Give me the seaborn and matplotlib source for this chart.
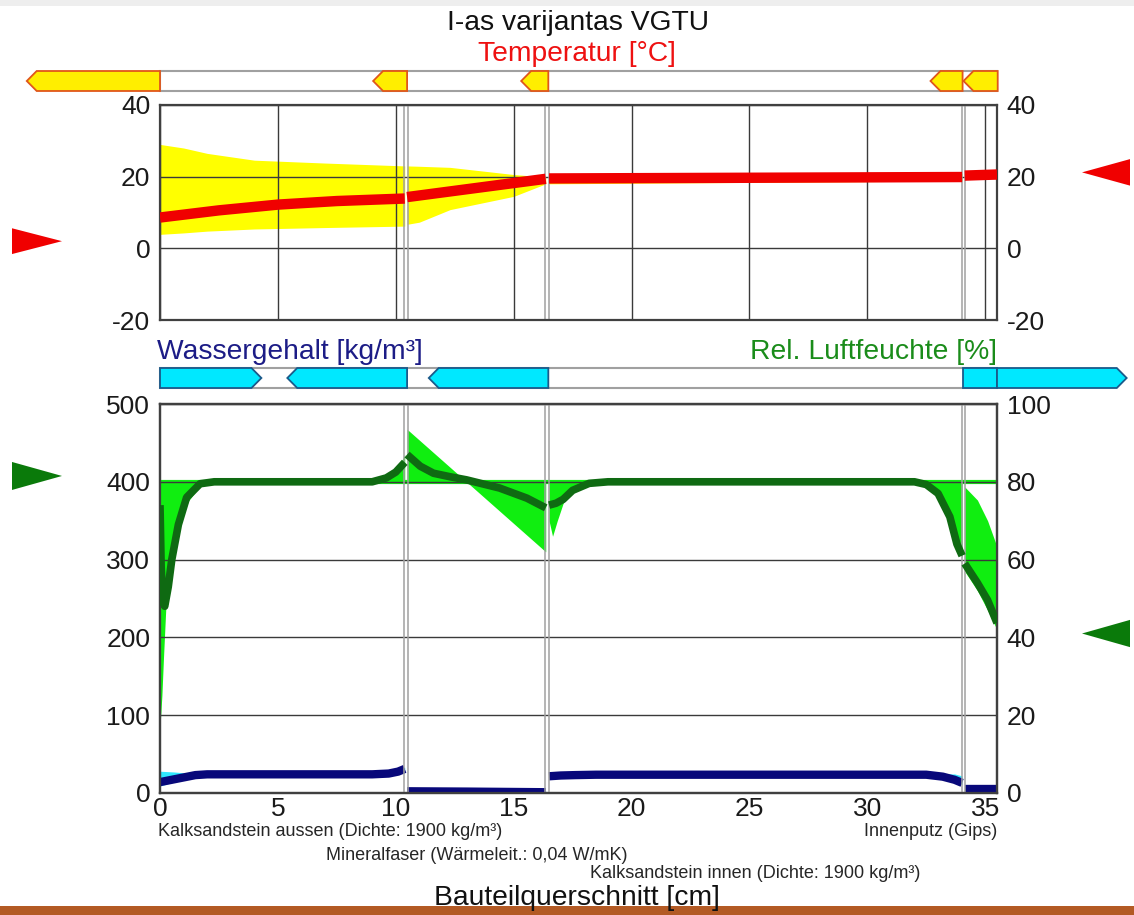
import matplotlib
matplotlib.use("Agg")
import matplotlib.pyplot as plt
import matplotlib.transforms as mtransforms
from matplotlib.patches import Polygon, Rectangle
import seaborn as sns

# ---------------- data ----------------
title = "I-as varijantas VGTU"
temp_label = "Temperatur [°C]"
water_label = "Wassergehalt [kg/m³]"
rh_label = "Rel. Luftfeuchte [%]"
x_label = "Bauteilquerschnitt [cm]"

x_ticks = [0, 5, 10, 15, 20, 25, 30, 35]
temp_ticks = [-20, 0, 20, 40]
water_ticks = [0, 100, 200, 300, 400, 500]
rh_ticks = [0, 20, 40, 60, 80, 100]
x_max = 35.5

layer_names = ["Kalksandstein aussen (Dichte: 1900 kg/m³)",
               "Mineralfaser (Wärmeleit.: 0,04 W/mK)",
               "Kalksandstein innen (Dichte: 1900 kg/m³)",
               "Innenputz (Gips)"]
layer_left = [0.0, 10.48, 16.50, 34.13]
layer_right = [10.38, 16.36, 34.02, 35.5]
boundary_lines = [10.35, 10.50, 16.34, 16.50, 34.00, 34.14]

# boundary conditions (side triangles)
temp_outside = 2.0
temp_inside = 21.2
rh_outside = 81.5
rh_inside = 41.0

# temperature: current profile per layer
t_x = [[0, 2.5, 5, 7.5, 10.38], [10.48, 16.36], [16.5, 34.02], [34.13, 35.5]]
t_val = [[8.6, 10.6, 12.2, 13.2, 13.9], [14.3, 19.4], [19.5, 19.9], [20.3, 20.6]]
# temperature: envelope (min / max)
t_env_x = [[0, 1, 2, 4, 7, 10.38], [10.48, 11.0, 12.3, 15.0, 16.36], [16.5, 34.02], [34.13, 35.5]]
t_env_hi = [[29.0, 28.0, 26.5, 24.6, 23.8, 23.0], [23.0, 22.9, 22.6, 20.6, 19.9], [20.8, 20.9], [21.2, 21.3]]
t_env_lo = [[3.9, 4.3, 4.8, 5.4, 5.8, 6.2], [6.7, 7.3, 10.8, 14.5, 18.0], [18.0, 18.8], [19.6, 19.8]]

# relative humidity: current profile per layer
rh_x = [[0, 0.05, 0.12, 0.2, 0.35, 0.5, 0.78, 1.13, 1.7, 2.3, 9.0, 9.6, 10.0, 10.38],
        [10.48, 11.04, 11.6, 12.3, 13.0, 14.4, 15.56, 16.36],
        [16.5, 16.8, 17.1, 17.5, 18.2, 19.0, 32.0, 32.5, 33.0, 33.5, 33.8, 34.02],
        [34.13, 34.67, 35.1, 35.5]]
rh_val = [[74, 58, 49, 48, 53, 60, 69, 76, 79.5, 80, 80, 81, 82.5, 85],
          [87, 84, 82.2, 81.3, 80.5, 78.4, 75.8, 73.3],
          [74, 74.5, 75.5, 77.8, 79.6, 80, 80, 79.3, 77, 71, 64, 61],
          [59, 54, 49.6, 43.7]]
# relative humidity: envelope
rh_env_x = [[0, 0.08, 0.15, 0.25, 0.4, 0.6, 0.9, 1.2, 1.7, 2.3, 9.3, 9.8, 10.1, 10.38],
            [10.48, 13.0, 16.36],
            [16.5, 16.65, 16.85, 17.1, 17.5, 18.2, 19.0, 32.0, 32.5, 33.0, 33.5, 33.8, 34.02],
            [34.13, 34.67, 35.1, 35.5]]
rh_env_hi = [[80, 80, 80, 80, 80, 80, 80, 80, 80, 80, 80, 81.5, 83.5, 87],
             [93.5, 80, 80],
             [80, 80, 80, 80, 80, 80, 80, 80, 80, 80, 80, 80, 80],
             [78.7, 75.3, 70.0, 63.3]]
rh_env_lo = [[17, 25, 35, 48, 55, 62, 70, 75, 79, 80, 80, 80, 80, 80],
             [80, 80, 62],
             [70, 66, 70, 74.5, 77.5, 79.6, 80, 80, 79.0, 76.5, 70.5, 63.5, 60.5],
             [57, 52, 47, 42]]
rh_initial = 80.0

# water content: current profile per layer
w_x = [[0, 0.5, 1.0, 1.5, 2.0, 9.0, 9.7, 10.1, 10.38],
       [10.48, 13.0, 16.36],
       [16.5, 17.0, 17.6, 18.5, 32.5, 33.2, 33.7, 34.02],
       [34.13, 35.5]]
w_val = [[14, 17, 20, 23, 24, 24, 25, 27.5, 31],
         [2.2, 1.8, 1.0],
         [21.5, 22.5, 23, 23.5, 23.5, 21, 17, 13],
         [5, 5]]
w_env_x = [[0, 0.6, 1.2, 2.0, 9.0, 10.38],
           [10.48, 13.0, 16.36],
           [16.5, 17.0, 17.6, 18.5, 32.5, 33.2, 33.7, 34.02],
           [34.13, 35.5]]
w_env_hi = [[28, 27, 25.5, 25, 25, 33],
            [3.5, 3.0, 2.5],
            [25, 25, 24.5, 24.5, 24.5, 24.5, 24.5, 22],
            [9, 8]]
w_env_lo = [[9, 14, 19, 23, 23, 26],
            [0.8, 0.5, 0.3],
            [20, 21, 22, 22.5, 22.5, 19, 15, 11],
            [2, 2]]

# flux arrows (start, end, direction: -1 left, +1 right, 0 none)
heat_start = [-5.65, 9.04, 15.32, 32.68, 34.08]
heat_end = [0.0, 10.48, 16.47, 34.04, 35.53]
heat_dir = [-1, -1, -1, -1, -1]
moist_start = [0.0, 5.4, 11.4, 34.04, 35.5]
moist_end = [4.3, 10.48, 16.47, 35.5, 41.0]
moist_dir = [1, -1, -1, 0, 1]

# ---------------- style ----------------
sns.set_theme(style="white")
plt.rcParams["font.family"] = ["Liberation Sans", "DejaVu Sans"]
plt.rcParams["axes.unicode_minus"] = False

W, H = 1134, 915
fig = plt.figure(figsize=(W / 100, H / 100), dpi=100)
fig.patch.set_facecolor("white")


def fx(px):
    return px / W


def fy(py):
    return 1 - py / H


AX_L, AX_R = 160, 997
ax_t = fig.add_axes([fx(AX_L), fy(320), fx(AX_R - AX_L), (320 - 105) / H])
ax_b = fig.add_axes([fx(AX_L), fy(793), fx(AX_R - AX_L), (793 - 404) / H])
ax_r = ax_b.twinx()

RED = "#f00000"
YELLOW = "#ffff00"
LIME = "#10ee10"
DKGREEN = "#0f6a12"
NAVY = "#08087a"
CYAN = "#30e8ff"
GRID = "#3a3a3a"
BOUND = "#a0a0a0"
TICK_FS = 19
HEAD_FS = 20.3
LAB_FS = 13

# ---- temperature panel ----
for xs, lo, hi in zip(t_env_x, t_env_lo, t_env_hi):
    ax_t.fill_between(xs, lo, hi, color=YELLOW, lw=0, zorder=1)
for xs, ys in zip(t_x, t_val):
    sns.lineplot(x=xs, y=ys, ax=ax_t, color=RED, lw=7.5, zorder=3,
                 solid_capstyle="butt")

# ---- moisture panel ----
for xs, lo, hi in zip(w_env_x, w_env_lo, w_env_hi):
    ax_b.fill_between(xs, lo, hi, color=CYAN, lw=0, zorder=1)
for xs, ys in zip(w_x, w_val):
    sns.lineplot(x=xs, y=ys, ax=ax_b, color=NAVY, lw=6, zorder=3,
                 solid_capstyle="butt")

ax_r.axhline(rh_initial, color=LIME, lw=3, zorder=1.2)
for xs, lo, hi in zip(rh_env_x, rh_env_lo, rh_env_hi):
    ax_r.fill_between(xs, lo, hi, color=LIME, lw=0, zorder=1)
for xs, ys in zip(rh_x, rh_val):
    sns.lineplot(x=xs, y=ys, ax=ax_r, color=DKGREEN, lw=5.5, zorder=3,
                 solid_capstyle="butt")

# ---- axes formatting ----
for ax in (ax_t, ax_b, ax_r):
    ax.set_xlim(0, x_max)
    ax.set_xticks(x_ticks)
    ax.set_xlabel("")
    ax.set_ylabel("")
    for sp in ax.spines.values():
        sp.set_color("#404040")
        sp.set_linewidth(1.6)
    ax.tick_params(length=0, labelsize=TICK_FS, colors="#1a1a1a")

ax_t.set_ylim(-20, 40)
ax_t.set_yticks(temp_ticks)
ax_t.tick_params(labelbottom=False, labelright=True, pad=7)
ax_t.set_axisbelow("line")
ax_t.grid(True, color=GRID, lw=1)

ax_b.set_ylim(0, 500)
ax_b.set_yticks(water_ticks)
ax_b.tick_params(axis="y", pad=7)
ax_b.tick_params(axis="x", pad=3)
ax_b.grid(False)

ax_r.set_ylim(0, 100)
ax_r.set_yticks(rh_ticks)
ax_r.tick_params(axis="y", pad=7)
ax_r.set_axisbelow("line")
ax_r.grid(True, color=GRID, lw=1)

for ax in (ax_t, ax_r):
    for xb in boundary_lines:
        ax.axvline(xb, color=BOUND, lw=1.1, zorder=1.6)

# ---- flux arrow bars ----
def arrow_pts(x0, x1, d, y0, y1, tip):
    ym = (y0 + y1) / 2
    if d < 0:
        return [(x0, ym), (x0 + tip, y1), (x1, y1), (x1, y0), (x0 + tip, y0)]
    if d > 0:
        return [(x0, y0), (x0, y1), (x1 - tip, y1), (x1, ym), (x1 - tip, y0)]
    return [(x0, y0), (x0, y1), (x1, y1), (x1, y0)]


tr_heat = mtransforms.blended_transform_factory(ax_t.transData, fig.transFigure)
y0h, y1h = fy(91), fy(71)
fig.add_artist(Rectangle((0, y0h), x_max, y1h - y0h, transform=tr_heat,
                         facecolor="white", edgecolor="#a0a0a0", lw=1.5))
for s, e, d in zip(heat_start, heat_end, heat_dir):
    fig.add_artist(Polygon(arrow_pts(s, e, d, y0h, y1h, 0.42), closed=True,
                           transform=tr_heat, facecolor="#ffee00",
                           edgecolor="#e0561a", lw=1.3))

tr_moist = mtransforms.blended_transform_factory(ax_b.transData, fig.transFigure)
y0m, y1m = fy(388), fy(368)
fig.add_artist(Rectangle((0, y0m), x_max, y1m - y0m, transform=tr_moist,
                         facecolor="white", edgecolor="#a0a0a0", lw=1.5))
for s, e, d in zip(moist_start, moist_end, moist_dir):
    fig.add_artist(Polygon(arrow_pts(s, e, d, y0m, y1m, 0.42), closed=True,
                           transform=tr_moist, facecolor="#00e8ff",
                           edgecolor="#1a5a8a", lw=1.3))

# ---- boundary condition triangles ----
tr_tl = mtransforms.blended_transform_factory(fig.transFigure, ax_t.transData)
fig.add_artist(Polygon([(fx(12), temp_outside + 3.6), (fx(12), temp_outside - 3.6),
                        (fx(62), temp_outside)], transform=tr_tl, color=RED, lw=0))
fig.add_artist(Polygon([(fx(1130), temp_inside + 3.7), (fx(1130), temp_inside - 3.7),
                        (fx(1082), temp_inside)], transform=tr_tl, color=RED, lw=0))
tr_rh = mtransforms.blended_transform_factory(fig.transFigure, ax_r.transData)
fig.add_artist(Polygon([(fx(12), rh_outside + 3.6), (fx(12), rh_outside - 3.6),
                        (fx(62), rh_outside)], transform=tr_rh, color="#0a7a0a", lw=0))
fig.add_artist(Polygon([(fx(1130), rh_inside + 3.5), (fx(1130), rh_inside - 3.5),
                        (fx(1082), rh_inside)], transform=tr_rh, color="#0a7a0a", lw=0))

# ---- texts ----
fig.text(fx(578), fy(22.5), title, ha="center", va="center", fontsize=HEAD_FS, color="#111111")
fig.text(fx(577), fy(54), temp_label, ha="center", va="center", fontsize=HEAD_FS, color="#ee1111")
fig.text(fx(157), fy(352), water_label, ha="left", va="center", fontsize=HEAD_FS, color="#1c1c86")
fig.text(fx(997), fy(352), rh_label, ha="right", va="center", fontsize=HEAD_FS, color="#1a8c1a")
fig.text(fx(577), fy(898), x_label, ha="center", va="center", fontsize=HEAD_FS, color="#111111")

tr_lab = mtransforms.blended_transform_factory(ax_b.transData, fig.transFigure)
fig.text(layer_left[0] - 0.1, fy(832), layer_names[0], transform=tr_lab, ha="left",
         va="center", fontsize=LAB_FS)
fig.text((layer_left[1] + layer_right[1]) / 2, fy(855), layer_names[1], transform=tr_lab,
         ha="center", va="center", fontsize=LAB_FS)
fig.text((layer_left[2] + layer_right[2]) / 2, fy(873), layer_names[2], transform=tr_lab,
         ha="center", va="center", fontsize=LAB_FS)
fig.text(layer_right[3], fy(832), layer_names[3], transform=tr_lab, ha="right",
         va="center", fontsize=LAB_FS)

# decorative edges of the original screenshot
fig.add_artist(Rectangle((0, fy(6)), 1, 6 / H, transform=fig.transFigure,
                         facecolor="#eeeeee", lw=0))
fig.add_artist(Rectangle((0, 0), 1, 9 / H, transform=fig.transFigure,
                         facecolor="#b35a24", lw=0))

fig.savefig("out.png", dpi=100)
